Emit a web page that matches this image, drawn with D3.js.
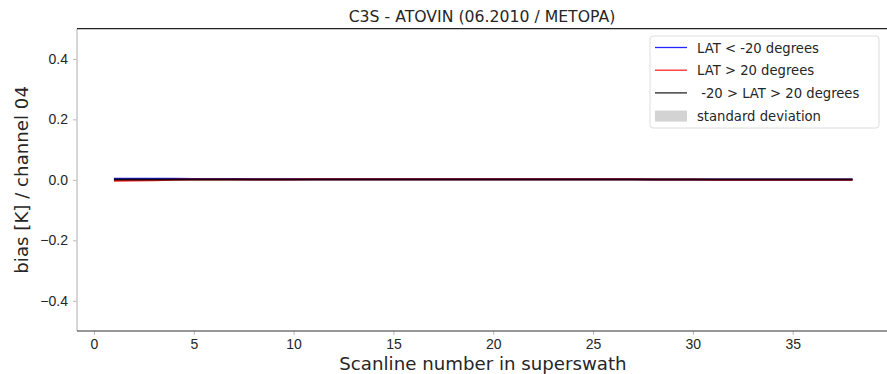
<!DOCTYPE html>
<html>
<head>
<meta charset="utf-8">
<script src="https://cdn.jsdelivr.net/npm/d3@7"></script>
<style>
  body { margin: 0; background: #fff; }
  svg { font-family: "DejaVu Sans", sans-serif; }
</style>
</head>
<body>
<svg id="chart" width="887" height="374"></svg>
<script>
// scanline numbers 1..38
var scanlines = d3.range(1, 39);

// bias per latitude band (all close to zero)
var biasSouth = [0.004, 0.004, 0.004, 0.004, 0.003, 0.003, 0.003, 0.002, 0.002, 0.002,
                 0.002, 0.002, 0.002, 0.002, 0.002, 0.002, 0.002, 0.002, 0.002, 0.002,
                 0.002, 0.002, 0.002, 0.002, 0.002, 0.002, 0.002, 0.001, 0.001, 0.001,
                 0.001, 0.001, 0.001, 0.001, 0.001, 0.001, 0.001, 0.001];
var biasNorth = [-0.003, -0.002, -0.001, 0.000, 0.001, 0.001, 0.001, 0.001, 0.001, 0.001,
                 0.002, 0.002, 0.002, 0.002, 0.002, 0.002, 0.002, 0.002, 0.002, 0.002,
                 0.002, 0.002, 0.002, 0.002, 0.002, 0.002, 0.002, 0.001, 0.001, 0.001,
                 0.000, 0.000, 0.000, 0.000, 0.000, 0.000, 0.000, 0.000];
var biasTropics = [0.001, 0.001, 0.001, 0.001, 0.001, 0.001, 0.001, 0.001, 0.001, 0.001,
                   0.001, 0.001, 0.001, 0.001, 0.001, 0.001, 0.001, 0.001, 0.001, 0.001,
                   0.001, 0.001, 0.001, 0.001, 0.001, 0.001, 0.001, 0.001, 0.001, 0.001,
                   0.001, 0.001, 0.001, 0.001, 0.001, 0.001, 0.001, 0.001];
var stdDev = 0.001;

var xTicks = [0, 5, 10, 15, 20, 25, 30, 35];
var yTicks = [-0.4, -0.2, 0.0, 0.2, 0.4];
var legendLabels = ['LAT < -20 degrees', 'LAT > 20 degrees', ' -20 > LAT > 20 degrees', 'standard deviation'];

var svg = d3.select('#chart'),
    plotLeft = 77, plotRight = 889.5, plotTop = 28.7, plotBottom = 331,
    textColor = '#262626';

var x = d3.scaleLinear().domain([-0.85, 39.85]).range([plotLeft, plotRight]);
var y = d3.scaleLinear().domain([-0.5, 0.5]).range([plotBottom, plotTop]);

var series = [
  { values: biasSouth, color: '#0000ff' },
  { values: biasNorth, color: '#ff0000' },
  { values: biasTropics, color: '#000000' }
];

var area = d3.area()
  .x(function(d, i) { return x(scanlines[i]); })
  .y0(function(d) { return y(d - stdDev); })
  .y1(function(d) { return y(d + stdDev); });

var line = d3.line()
  .x(function(d, i) { return x(scanlines[i]); })
  .y(function(d) { return y(d); });

// std bands
series.forEach(function(s) {
  svg.append('path')
    .attr('d', area(s.values))
    .attr('fill', '#d3d3d3')
    .attr('opacity', 0.6);
});
series.forEach(function(s) {
  svg.append('path')
    .attr('d', line(s.values))
    .attr('fill', 'none')
    .attr('stroke', s.color)
    .attr('stroke-width', 2)
    .attr('opacity', 0.85);
});

// x axis
var xAxis = svg.append('g')
  .attr('transform', 'translate(0,' + plotBottom + ')')
  .call(d3.axisBottom(x).tickValues(xTicks).tickSize(4).tickPadding(4).tickFormat(d3.format('d')));
xAxis.select('.domain').remove();
xAxis.selectAll('.tick line').attr('stroke', '#bbb');
xAxis.selectAll('.tick text').attr('fill', textColor).style('font-size', '14px');

// y axis
var yAxis = svg.append('g')
  .attr('transform', 'translate(' + plotLeft + ',0)')
  .call(d3.axisLeft(y).tickValues(yTicks).tickSize(4).tickPadding(5)
    .tickFormat(function(d) { return d3.format('.1f')(d).replace('-', '\u2212'); }));
yAxis.select('.domain').remove();
yAxis.selectAll('.tick line').attr('stroke', '#bbb');
yAxis.selectAll('.tick text').attr('fill', textColor).style('font-size', '14px');

// spines
svg.append('line').attr('x1', plotLeft).attr('x2', plotLeft).attr('y1', plotTop).attr('y2', plotBottom)
  .attr('stroke', '#c8c8c8').attr('stroke-width', 1.5);
svg.append('line').attr('x1', plotLeft).attr('x2', 887).attr('y1', plotTop).attr('y2', plotTop)
  .attr('stroke', '#222').attr('stroke-width', 1.2);
svg.append('line').attr('x1', plotLeft).attr('x2', 887).attr('y1', plotBottom).attr('y2', plotBottom)
  .attr('stroke', '#333').attr('stroke-width', 1.2);

// title and labels
svg.append('text')
  .attr('x', 482).attr('y', 22)
  .attr('text-anchor', 'middle')
  .attr('fill', textColor)
  .style('font-size', '15.7px')
  .text('C3S - ATOVIN (06.2010 / METOPA)');

svg.append('text')
  .attr('x', 483).attr('y', 370)
  .attr('text-anchor', 'middle')
  .attr('fill', textColor)
  .style('font-size', '18.2px')
  .text('Scanline number in superswath');

svg.append('text')
  .attr('transform', 'translate(28,' + ((plotTop + plotBottom) / 2) + ') rotate(-90)')
  .attr('text-anchor', 'middle')
  .attr('fill', textColor)
  .style('font-size', '18.2px')
  .text('bias [K] / channel 04');

// legend
var legend = svg.append('g').attr('transform', 'translate(650,36)');
legend.append('rect')
  .attr('width', 229).attr('height', 92)
  .attr('rx', 3)
  .attr('fill', '#fff').attr('stroke', '#ddd');

var legendColors = ['#0000ff', '#ff0000', '#000000', '#d3d3d3'];
legendLabels.forEach(function(label, i) {
  var gy = 11.5 + i * 22.7;
  if (i < 3) {
    legend.append('line')
      .attr('x1', 5).attr('x2', 37).attr('y1', gy).attr('y2', gy)
      .attr('stroke', legendColors[i]).attr('stroke-width', 1.3).attr('opacity', 0.85);
  } else {
    legend.append('rect')
      .attr('x', 5).attr('y', gy - 5).attr('width', 32).attr('height', 11)
      .attr('fill', legendColors[i]);
  }
  legend.append('text')
    .attr('x', 47).attr('y', gy + 5)
    .attr('fill', textColor)
    .style('font-size', '13.2px')
    .style('white-space', 'pre')
    .attr('xml:space', 'preserve')
    .text(label);
});
</script>
</body>
</html>
